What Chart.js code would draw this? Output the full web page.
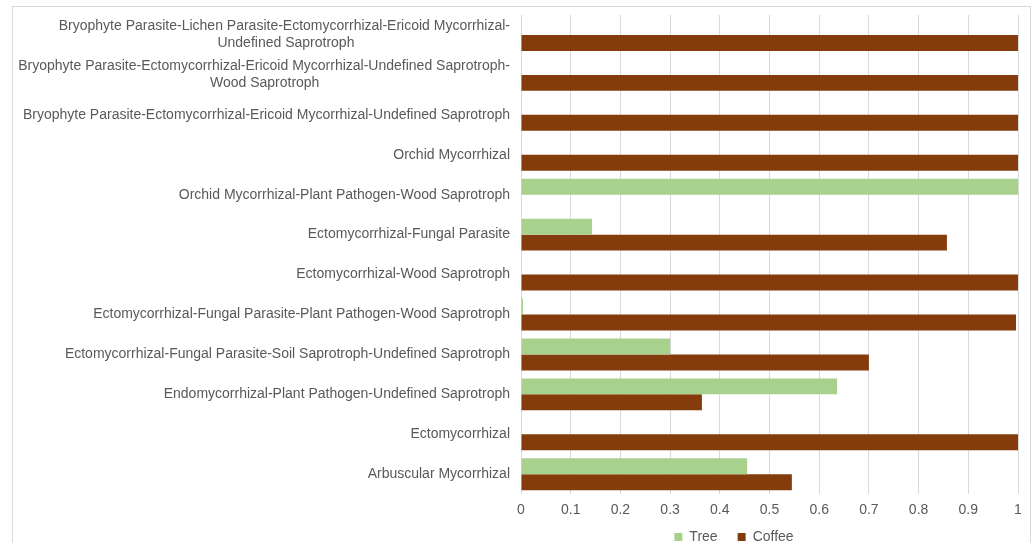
<!DOCTYPE html>
<html>
<head>
<meta charset="utf-8">
<script src="https://cdn.jsdelivr.net/npm/chart.js@4/dist/chart.umd.min.js"></script>
<style>
  html, body { margin: 0; padding: 0; background: #ffffff; overflow: hidden; }
  #frame {
    position: absolute; left: 12px; top: 6px; width: 1019px; height: 600px;
    box-sizing: border-box; border: 1px solid #d9d9d9;
  }
  #wrap { position: absolute; left: 0; top: 0; width: 1034px; height: 571px; }
</style>
</head>
<body>
<div id="frame"></div>
<div id="wrap"><canvas id="chart"></canvas></div>
<script>
// Fungal guild categories, listed top to bottom (long names pre-split into lines)
const categories = [
  ['Bryophyte Parasite-Lichen Parasite-Ectomycorrhizal-Ericoid Mycorrhizal-', 'Undefined Saprotroph'],
  ['Bryophyte Parasite-Ectomycorrhizal-Ericoid Mycorrhizal-Undefined Saprotroph-', 'Wood Saprotroph'],
  'Bryophyte Parasite-Ectomycorrhizal-Ericoid Mycorrhizal-Undefined Saprotroph',
  'Orchid Mycorrhizal',
  'Orchid Mycorrhizal-Plant Pathogen-Wood Saprotroph',
  'Ectomycorrhizal-Fungal Parasite',
  'Ectomycorrhizal-Wood Saprotroph',
  'Ectomycorrhizal-Fungal Parasite-Plant Pathogen-Wood Saprotroph',
  'Ectomycorrhizal-Fungal Parasite-Soil Saprotroph-Undefined Saprotroph',
  'Endomycorrhizal-Plant Pathogen-Undefined Saprotroph',
  'Ectomycorrhizal',
  'Arbuscular Mycorrhizal'
];

// Relative share of each guild per land use
const treeValues   = [0, 0, 0, 0, 1, 0.143, 0, 0.004, 0.3, 0.636, 0, 0.455];
const coffeeValues = [1, 1, 1, 1, 0, 0.857, 1, 0.996, 0.7, 0.364, 1, 0.545];

const seriesNames = ['Tree', 'Coffee'];
const xTickLabels = ['0', '0.1', '0.2', '0.3', '0.4', '0.5', '0.6', '0.7', '0.8', '0.9', '1'];

const FONT_FAMILY = '"Liberation Sans", Arial, sans-serif';
const TEXT_COLOR = '#595959';

// Right-aligned tick text: pad shorter lines with trailing spaces so
// multi-line labels appear centred on each other.
function centreLines(label) {
  if (!Array.isArray(label)) return label;
  const ctx = document.createElement('canvas').getContext('2d');
  ctx.font = '14px ' + FONT_FAMILY;
  const widths = label.map(l => ctx.measureText(l).width);
  const widest = Math.max(...widths);
  const space = ctx.measureText(' ').width;
  return label.map((l, i) => {
    const n = Math.round((widest - widths[i]) / 2 / space);
    return l + ' '.repeat(n);
  });
}

// Place the legend row under the right-hand part of the chart, close to the axis
const legendPlacement = {
  id: 'legendPlacement',
  afterLayout(chart) {
    const lg = chart.legend;
    if (!lg) return;
    lg.left = 450;
    lg.right = 1018;
    lg.top -= 17;
  }
};

Chart.defaults.font.family = FONT_FAMILY;
Chart.defaults.font.size = 14;
Chart.defaults.color = TEXT_COLOR;

new Chart(document.getElementById('chart'), {
  type: 'bar',
  data: {
    labels: categories.map(centreLines),
    datasets: [
      { label: seriesNames[0], data: treeValues, backgroundColor: '#a9d18e' },
      { label: seriesNames[1], data: coffeeValues, backgroundColor: '#843c0c' }
    ]
  },
  options: {
    indexAxis: 'y',
    responsive: true,
    maintainAspectRatio: false,
    animation: false,
    datasets: { bar: { categoryPercentage: 0.8, barPercentage: 1.0 } },
    layout: { padding: { left: 0, right: 16, top: 15, bottom: 0 } },
    scales: {
      x: {
        min: 0, max: 1,
        grid: { color: '#d9d9d9', lineWidth: 1, drawTicks: false },
        border: { display: false },
        ticks: {
          stepSize: 0.1, padding: 8, color: TEXT_COLOR,
          callback: (v, i) => xTickLabels[i]
        }
      },
      y: {
        grid: { display: false, drawTicks: false },
        border: { display: false },
        ticks: { autoSkip: false, padding: 11, color: TEXT_COLOR },
        afterFit: scale => {
          scale.width = 521;
          scale.paddingTop = 0;
          scale.paddingBottom = 0;
        }
      }
    },
    plugins: {
      legend: {
        position: 'bottom',
        labels: { boxWidth: 8, boxHeight: 8, padding: 20, color: TEXT_COLOR }
      },
      tooltip: { enabled: false }
    }
  },
  plugins: [legendPlacement]
});
</script>
</body>
</html>
